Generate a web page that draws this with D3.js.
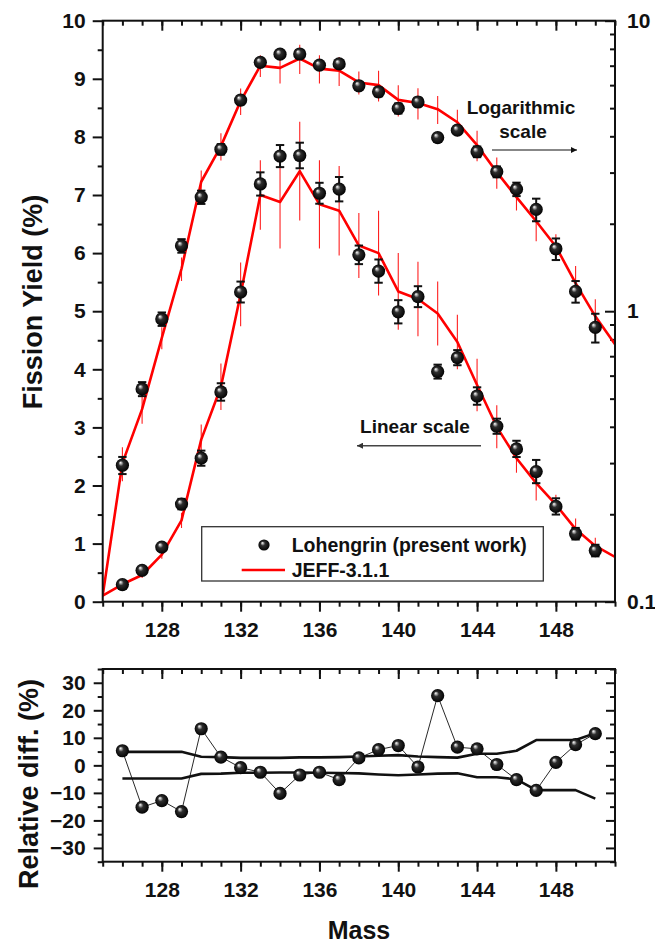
<!DOCTYPE html>
<html>
<head>
<meta charset="utf-8">
<script src="https://cdn.jsdelivr.net/npm/d3@7"></script>
<style>
  html, body { margin: 0; padding: 0; background: #fff; }
  svg { display: block; font-family: "Liberation Sans", Arial, sans-serif; }
  text { font-weight: bold; fill: #111; }
</style>
</head>
<body>
<svg id="chart" width="655" height="945"></svg>
<script>
// Mass numbers of the measured fragments
const masses = [126,127,128,129,130,131,132,133,134,135,136,137,138,139,140,141,142,143,144,145,146,147,148,149,150];
// Measured fission yields (%) and their uncertainties
const yieldExp = [0.295,0.54,0.94,1.68,2.47,3.61,5.33,7.19,7.67,7.68,7.03,7.10,5.97,5.69,4.99,5.25,3.96,4.20,3.54,3.02,2.63,2.24,1.64,1.17,0.88];
const errExp   = [0.02,0.03,0.05,0.09,0.13,0.15,0.18,0.20,0.19,0.22,0.18,0.21,0.16,0.20,0.20,0.18,0.12,0.13,0.15,0.13,0.14,0.20,0.14,0.10,0.10];

// Evaluated library yields (JEFF-3.1.1) and uncertainties
const jeffMass  = [125,126,127,128,129,130,131,132,133,134,135,136,137,138,139,140,141,142,143,144,145,146,147,148,149,150,151];
const jeffYield = [0.105,0.30,0.46,0.81,1.40,2.79,3.70,5.29,7.00,6.88,7.41,6.84,6.73,6.13,6.00,5.34,5.21,4.96,4.47,3.73,3.01,2.47,2.04,1.67,1.25,0.96,0.77];
const jeffErr   = [0.025,0.04,0.05,0.07,0.13,0.26,0.40,0.55,0.60,0.80,0.85,0.76,0.77,0.56,0.73,0.66,0.64,0.55,0.47,0.45,0.37,0.25,0.30,0.17,0.18,0.14,0.08];

// Relative difference (%) and the experimental uncertainty band
const relDiff   = [5.3,-15.2,-12.8,-16.8,13.3,3.0,-0.8,-2.5,-10.2,-3.5,-2.5,-5.2,2.7,5.7,7.2,-0.6,25.3,6.6,6.0,0.3,-5.2,-9.1,1.1,7.5,11.5];
const bandUpper = [4.9,4.9,4.9,4.9,3.1,3.0,2.7,2.7,2.7,2.9,2.9,3.0,3.2,3.5,3.7,3.2,3.0,2.8,4.2,4.2,5.3,9.2,9.2,9.2,11.7];
const bandLower = [-4.8,-4.8,-4.8,-4.8,-3.1,-3.0,-2.7,-2.7,-2.6,-2.6,-2.7,-2.8,-2.9,-3.3,-3.6,-3.3,-3.0,-2.9,-4.3,-4.3,-5.1,-9.0,-9.0,-9.0,-12.1];

// Axis tick values
const massTicks  = [128,132,136,140,144,148];
const yLinTicks  = [0,1,2,3,4,5,6,7,8,9,10];
const yLogTicks  = [0.1,1,10];
const diffTicks  = [-30,-20,-10,0,10,20,30];

const svg = d3.select("#chart");
const L = 102.7, R = 615, T1 = 20.7, B1 = 601.7, T2 = 669, B2 = 861.7;
const FS = 21;

const x     = d3.scaleLinear().domain([125,151]).range([L,R]);
const yLin  = d3.scaleLinear().domain([0,10]).range([B1,T1]);
const yLog  = d3.scaleLog().domain([0.1,10]).range([B1,T1]);
const yDiff = d3.scaleLinear().domain([-35,35]).range([B2,T2]);

// Sphere-like marker fill
const defs = svg.append("defs");
const grad = defs.append("radialGradient").attr("id","ball")
  .attr("cx","50%").attr("cy","50%").attr("r","52%").attr("fx","34%").attr("fy","30%");
grad.append("stop").attr("offset","0%").attr("stop-color","#ffffff");
grad.append("stop").attr("offset","14%").attr("stop-color","#b8b8b8");
grad.append("stop").attr("offset","38%").attr("stop-color","#2e2e2e");
grad.append("stop").attr("offset","100%").attr("stop-color","#000");
defs.append("clipPath").attr("id","plotClip")
  .append("rect").attr("x",L).attr("y",T1).attr("width",R-L).attr("height",B1-T1);
defs.append("marker").attr("id","headR").attr("viewBox","0 0 10 10")
  .attr("refX",10).attr("refY",5).attr("markerWidth",12).attr("markerHeight",6)
  .attr("markerUnits","userSpaceOnUse").attr("orient","auto")
  .append("path").attr("d","M0,0 L10,5 L0,10 Z").attr("fill","#111");
defs.append("marker").attr("id","headL").attr("viewBox","0 0 10 10")
  .attr("refX",10).attr("refY",5).attr("markerWidth",12).attr("markerHeight",6)
  .attr("markerUnits","userSpaceOnUse").attr("orient","auto")
  .append("path").attr("d","M0,0 L10,5 L0,10 Z").attr("fill","#333");

const range = (a,b) => d3.range(a,b+1);
function styleAxis(g) {
  g.select(".domain").remove();
  g.selectAll(".tick line").attr("stroke","#111").attr("stroke-width",2);
  g.selectAll(".tick text").attr("font-size",FS).attr("font-weight","bold").attr("fill","#111");
}

// ---------- Upper panel ----------
const upper = svg.append("g");
// bottom axis (outward)
upper.append("g").attr("transform",`translate(0,${B1})`)
  .call(d3.axisBottom(x).tickValues(range(125,151)).tickSize(5).tickFormat("")).call(styleAxis);
upper.append("g").attr("transform",`translate(0,${B1})`)
  .call(d3.axisBottom(x).tickValues(massTicks).tickSize(10).tickPadding(10.5).tickFormat(d3.format("d"))).call(styleAxis);
// top axis (inward)
upper.append("g").attr("transform",`translate(0,${T1})`)
  .call(d3.axisBottom(x).tickValues(range(125,151)).tickSize(5).tickFormat("")).call(styleAxis);
upper.append("g").attr("transform",`translate(0,${T1})`)
  .call(d3.axisBottom(x).tickValues(massTicks).tickSize(10).tickFormat("")).call(styleAxis);
// left linear axis (outward)
upper.append("g").attr("transform",`translate(${L},0)`)
  .call(d3.axisLeft(yLin).tickValues(d3.range(0.5,10,1)).tickSize(5).tickFormat("")).call(styleAxis);
upper.append("g").attr("transform",`translate(${L},0)`)
  .call(d3.axisLeft(yLin).tickValues(yLinTicks).tickSize(10).tickPadding(7).tickFormat(d3.format("d"))).call(styleAxis);
// right log axis (inward ticks, labels outside)
const logMinor = [0.2,0.3,0.4,0.5,0.6,0.7,0.8,0.9,2,3,4,5,6,7,8,9];
upper.append("g").attr("transform",`translate(${R},0)`)
  .call(d3.axisRight(yLog).tickValues(logMinor).tickSizeInner(-5).tickFormat("")).call(styleAxis);
upper.append("g").attr("transform",`translate(${R},0)`)
  .call(d3.axisRight(yLog).tickValues(yLogTicks).tickSizeInner(-10).tickPadding(12).tickFormat(d => d < 1 ? "0.1" : d3.format("d")(d))).call(styleAxis);

const plotArea = upper.append("g").attr("clip-path","url(#plotClip)");

// JEFF uncertainties (thin red bars)
function jeffBars(y) {
  plotArea.append("g").selectAll("line").data(jeffMass).join("line")
    .attr("x1",d=>x(d)).attr("x2",d=>x(d))
    .attr("y1",(d,i)=>y(Math.max(jeffYield[i]-jeffErr[i],0.05))).attr("y2",(d,i)=>y(jeffYield[i]+jeffErr[i]))
    .attr("stroke","#ff2020").attr("stroke-width",1.1);
}
jeffBars(yLin); jeffBars(yLog);

// JEFF curves
function jeffLine(y) {
  plotArea.append("path").datum(jeffMass)
    .attr("d", d3.line().x(d=>x(d)).y((d,i)=>y(jeffYield[i])))
    .attr("fill","none").attr("stroke","#ff0000").attr("stroke-width",2.6).attr("stroke-linejoin","round");
}
jeffLine(yLin); jeffLine(yLog);

// Measured points with error bars
function expPoints(y) {
  const g = upper.append("g");
  const eb = g.selectAll("g.eb").data(masses).join("g");
  eb.append("line").attr("x1",d=>x(d)).attr("x2",d=>x(d))
    .attr("y1",(d,i)=>y(yieldExp[i]-errExp[i])).attr("y2",(d,i)=>y(yieldExp[i]+errExp[i]))
    .attr("stroke","#111").attr("stroke-width",2);
  [-1,1].forEach(s => {
    eb.append("line").attr("x1",d=>x(d)-4.2).attr("x2",d=>x(d)+4.2)
      .attr("y1",(d,i)=>y(yieldExp[i]+s*errExp[i])).attr("y2",(d,i)=>y(yieldExp[i]+s*errExp[i]))
      .attr("stroke","#111").attr("stroke-width",2);
  });
  g.selectAll("circle").data(masses).join("circle")
    .attr("cx",d=>x(d)).attr("cy",(d,i)=>y(yieldExp[i])).attr("r",6.6)
    .attr("fill","url(#ball)");
}
expPoints(yLin); expPoints(yLog);

upper.append("rect").attr("x",L).attr("y",T1).attr("width",R-L).attr("height",B1-T1)
  .attr("fill","none").attr("stroke","#111").attr("stroke-width",2);

// Annotations
upper.append("text").attr("x",521).attr("y",114).attr("text-anchor","middle").attr("font-size",19).text("Logarithmic");
upper.append("text").attr("x",523).attr("y",138).attr("text-anchor","middle").attr("font-size",19).text("scale");
upper.append("line").attr("x1",492).attr("x2",577).attr("y1",150).attr("y2",150)
  .attr("stroke","#111").attr("stroke-width",1.2).attr("marker-end","url(#headR)");
upper.append("text").attr("x",415).attr("y",433).attr("text-anchor","middle").attr("font-size",19).text("Linear scale");
upper.append("line").attr("x1",481).attr("x2",357).attr("y1",445.7).attr("y2",445.7)
  .attr("stroke","#444").attr("stroke-width",1.5).attr("marker-end","url(#headL)");

// Legend
const lg = upper.append("g");
lg.append("rect").attr("x",201.7).attr("y",526.7).attr("width",341.6).attr("height",54.3)
  .attr("fill","#fff").attr("stroke","#333").attr("stroke-width",1.3);
lg.append("circle").attr("cx",264).attr("cy",545).attr("r",5.6).attr("fill","url(#ball)");
lg.append("text").attr("x",291.7).attr("y",551.7).attr("font-size",19.5).text("Lohengrin (present work)");
lg.append("line").attr("x1",241.7).attr("x2",285).attr("y1",570).attr("y2",570)
  .attr("stroke","#ff0000").attr("stroke-width",2.6);
lg.append("text").attr("x",291.7).attr("y",576.7).attr("font-size",19.5).text("JEFF-3.1.1");

upper.append("text").attr("transform","translate(42,302) rotate(-90)").attr("text-anchor","middle")
  .attr("font-size",27).text("Fission Yield (%)");

// ---------- Lower panel ----------
const lower = svg.append("g");
lower.append("g").attr("transform",`translate(0,${B2})`)
  .call(d3.axisBottom(x).tickValues(range(125,151)).tickSize(5).tickFormat("")).call(styleAxis);
lower.append("g").attr("transform",`translate(0,${B2})`)
  .call(d3.axisBottom(x).tickValues(massTicks).tickSize(10).tickPadding(10.5).tickFormat(d3.format("d"))).call(styleAxis);
lower.append("g").attr("transform",`translate(0,${T2})`)
  .call(d3.axisBottom(x).tickValues(range(125,151)).tickSize(5).tickFormat("")).call(styleAxis);
lower.append("g").attr("transform",`translate(0,${T2})`)
  .call(d3.axisBottom(x).tickValues(massTicks).tickSize(10).tickFormat("")).call(styleAxis);
lower.append("g").attr("transform",`translate(${L},0)`)
  .call(d3.axisLeft(yDiff).tickValues(d3.range(-35,36,10)).tickSize(5).tickFormat("")).call(styleAxis);
lower.append("g").attr("transform",`translate(${L},0)`)
  .call(d3.axisLeft(yDiff).tickValues(diffTicks).tickSize(9).tickPadding(8).tickFormat(d3.format("d"))).call(styleAxis);
lower.append("g").attr("transform",`translate(${R},0)`)
  .call(d3.axisRight(yDiff).tickValues(d3.range(-35,36,10)).tickSizeInner(-5).tickFormat("")).call(styleAxis);
lower.append("g").attr("transform",`translate(${R},0)`)
  .call(d3.axisRight(yDiff).tickValues(diffTicks).tickSizeInner(-9).tickFormat("")).call(styleAxis);

// Uncertainty band
[bandUpper, bandLower].forEach(arr => {
  lower.append("path").datum(masses)
    .attr("d", d3.line().x(d=>x(d)).y((d,i)=>yDiff(arr[i])))
    .attr("fill","none").attr("stroke","#111").attr("stroke-width",2.6).attr("stroke-linejoin","round");
});
// Relative differences
lower.append("path").datum(masses)
  .attr("d", d3.line().x(d=>x(d)).y((d,i)=>yDiff(relDiff[i])))
  .attr("fill","none").attr("stroke","#111").attr("stroke-width",0.9);
lower.append("g").selectAll("circle").data(masses).join("circle")
  .attr("cx",d=>x(d)).attr("cy",(d,i)=>yDiff(relDiff[i])).attr("r",6.6).attr("fill","url(#ball)");

lower.append("rect").attr("x",L).attr("y",T2).attr("width",R-L).attr("height",B2-T2)
  .attr("fill","none").attr("stroke","#111").attr("stroke-width",2);

lower.append("text").attr("transform","translate(38,784) rotate(-90)").attr("text-anchor","middle")
  .attr("font-size",27).text("Relative diff. (%)");
lower.append("text").attr("x",359).attr("y",939).attr("text-anchor","middle")
  .attr("font-size",25).text("Mass");
</script>
</body>
</html>
